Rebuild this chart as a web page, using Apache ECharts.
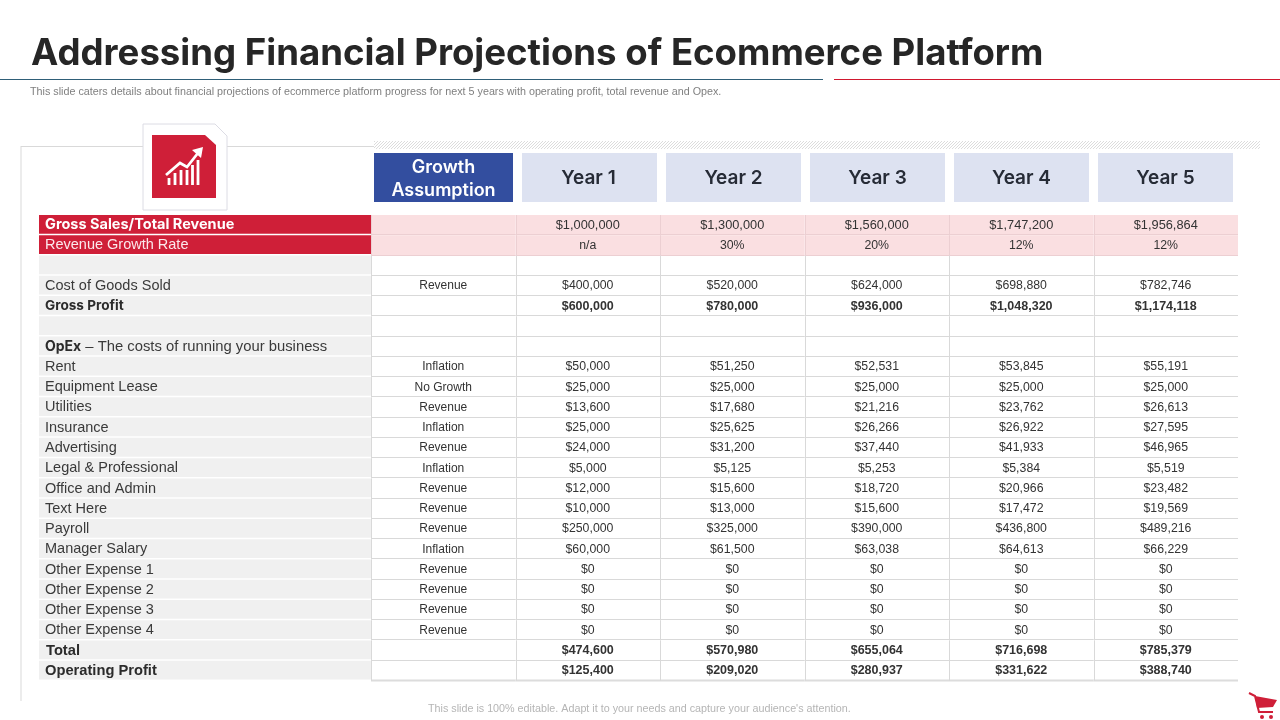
<!DOCTYPE html>
<html>
<head>
<meta charset="utf-8">
<style>html,body{margin:0;padding:0;background:#fff}#main{width:1280px;height:720px}</style>
<script src="https://cdn.jsdelivr.net/npm/echarts@6/dist/echarts.min.js"></script>
</head>
<body>
<div id="main"></div>
<script>
var headers = ['Growth\nAssumption', 'Year 1', 'Year 2', 'Year 3', 'Year 4', 'Year 5'];
var rowLabels = ['Gross Sales/Total Revenue', 'Revenue Growth Rate', '', 'Cost of Goods Sold', 'Gross Profit', '',
    'OpEx – The costs of running your business', 'Rent', 'Equipment Lease', 'Utilities', 'Insurance', 'Advertising',
    'Legal & Professional', 'Office and Admin', 'Text Here', 'Payroll', 'Manager Salary', 'Other Expense 1',
    'Other Expense 2', 'Other Expense 3', 'Other Expense 4', 'Total', 'Operating Profit'];
var assumptions = ['', '', '', 'Revenue', '', '', '', 'Inflation', 'No Growth', 'Revenue', 'Inflation', 'Revenue',
    'Inflation', 'Revenue', 'Revenue', 'Revenue', 'Inflation', 'Revenue', 'Revenue', 'Revenue', 'Revenue', '', ''];
var year1 = ['$1,000,000', 'n/a', '', '$400,000', '$600,000', '', '', '$50,000', '$25,000', '$13,600', '$25,000', '$24,000',
    '$5,000', '$12,000', '$10,000', '$250,000', '$60,000', '$0', '$0', '$0', '$0', '$474,600', '$125,400'];
var year2 = ['$1,300,000', '30%', '', '$520,000', '$780,000', '', '', '$51,250', '$25,000', '$17,680', '$25,625', '$31,200',
    '$5,125', '$15,600', '$13,000', '$325,000', '$61,500', '$0', '$0', '$0', '$0', '$570,980', '$209,020'];
var year3 = ['$1,560,000', '20%', '', '$624,000', '$936,000', '', '', '$52,531', '$25,000', '$21,216', '$26,266', '$37,440',
    '$5,253', '$18,720', '$15,600', '$390,000', '$63,038', '$0', '$0', '$0', '$0', '$655,064', '$280,937'];
var year4 = ['$1,747,200', '12%', '', '$698,880', '$1,048,320', '', '', '$53,845', '$25,000', '$23,762', '$26,922', '$41,933',
    '$5,384', '$20,966', '$17,472', '$436,800', '$64,613', '$0', '$0', '$0', '$0', '$716,698', '$331,622'];
var year5 = ['$1,956,864', '12%', '', '$782,746', '$1,174,118', '', '', '$55,191', '$25,000', '$26,613', '$27,595', '$46,965',
    '$5,519', '$23,482', '$19,569', '$489,216', '$66,229', '$0', '$0', '$0', '$0', '$785,379', '$388,740'];
var columns = [assumptions, year1, year2, year3, year4, year5];

var RED = '#cf1f38';
var HEAD_FONT = 'Inter';
var BODY_FONT = 'Liberation Sans';

// rows which the slide sets in bold
var redRows = [0, 1];
var headBoldRows = [0, 4];
var boldRows = [21, 22];
var boldCellRows = [4, 21, 22];

function renderHeader(params, api) {
    var i = api.value(0);
    var c = api.coord([i, 0]);
    var h = api.size([1, 1])[1];
    var w = i === 0 ? 139 : 135;
    var x = i === 0 ? 374 : c[0] - w / 2;
    return {
        type: 'group',
        children: [{
            type: 'rect',
            shape: { x: x, y: c[1] - h / 2, width: w, height: h },
            style: { fill: i === 0 ? '#334e9f' : '#dde2f1' }
        }, {
            type: 'text',
            style: {
                text: headers[i], x: x + w / 2 - (i === 1 ? 1 : 0), y: c[1] + (i === 0 ? 1.5 : 1),
                align: 'center', verticalAlign: 'middle',
                fill: i === 0 ? '#ffffff' : '#262b36', fontFamily: HEAD_FONT, fontWeight: 600,
                fontSize: i === 0 ? 18 : 19, lineHeight: 23
            }
        }]
    };
}

function renderLabel(params, api) {
    var r = api.value(1);
    var c = api.coord([0, r]);
    var s = api.size([1, 1]);
    var red = redRows.indexOf(r) >= 0;
    var style = {
        text: rowLabels[r], x: c[0] - s[0] / 2 + 6, y: c[1], align: 'left', verticalAlign: 'middle',
        fill: red ? '#fbe9ec' : '#3a3a3a', fontFamily: BODY_FONT, fontSize: 14.5
    };
    if (headBoldRows.indexOf(r) >= 0) {
        style.fontFamily = HEAD_FONT;
        style.fontWeight = 700;
        style.fontSize = red ? 14.5 : 13.6;
        style.fill = red ? '#ffffff' : '#2b2b2b';
    }
    if (boldRows.indexOf(r) >= 0) {
        style.fontWeight = 700;
        style.fontSize = 14.7;
        style.fill = '#2b2b2b';
    }
    if (r === 21) style.x += 1;
    if (r === 6) {
        style.text = '{b|OpEx} – The costs of running your business';
        style.rich = { b: { fontFamily: HEAD_FONT, fontWeight: 700, fontSize: 14, fill: '#2b2b2b' } };
        style.fontSize = 14.8;
    }
    return {
        type: 'group',
        children: [{
            type: 'rect',
            shape: { x: c[0] - s[0] / 2, y: c[1] - s[1] / 2, width: s[0], height: s[1] - 1.5 },
            style: { fill: red ? RED : '#f0f0f0' }
        }, { type: 'text', style: style }]
    };
}

function cellFontSize(col, r) {
    if (col === 0) return 12;
    if (r === 0) return 12.8;
    return boldCellRows.indexOf(r) >= 0 ? 12.5 : 12.3;
}

function renderCell(params, api) {
    var col = api.value(0);
    var r = api.value(1);
    var c = api.coord([col, r]);
    var s = api.size([1, 1]);
    var left = c[0] - s[0] / 2;
    var top = c[1] - s[1] / 2;
    var x = Math.round(left) + 0.5;
    var bottom = Math.round(top + s[1]) - 0.5;
    var line = { stroke: redRows.indexOf(r) >= 0 ? '#eccfd2' : '#d9d9d9', lineWidth: 1 };
    return {
        type: 'group',
        children: [{
            type: 'rect',
            shape: { x: left, y: top, width: s[0], height: s[1] },
            style: { fill: redRows.indexOf(r) >= 0 ? '#fadfe1' : '#ffffff' }
        }, {
            type: 'line',
            z2: 1,
            shape: { x1: left, y1: bottom, x2: left + s[0], y2: bottom },
            style: r === 22 ? { stroke: '#dcdcdc', lineWidth: 2 } : line
        }, {
            type: 'line',
            z2: 1,
            shape: { x1: x, y1: top, x2: x, y2: top + s[1] },
            style: line
        }, {
            type: 'text',
            z2: 2,
            style: {
                text: columns[col][r], x: c[0], y: c[1], align: 'center', verticalAlign: 'middle',
                fill: '#333333', fontFamily: BODY_FONT, fontSize: cellFontSize(col, r),
                fontWeight: boldCellRows.indexOf(r) >= 0 ? 700 : 400
            }
        }]
    };
}

var labelData = rowLabels.map(function (t, r) { return [0, r]; });
var cellData = [];
columns.forEach(function (col, c) {
    col.forEach(function (t, r) { cellData.push([c, r]); });
});

function hatchPattern() {
    var cv = document.createElement('canvas');
    cv.width = 3;
    cv.height = 3;
    var ctx = cv.getContext('2d');
    ctx.strokeStyle = '#dcdcdc';
    ctx.lineWidth = 1;
    ctx.beginPath();
    ctx.moveTo(0, 3);
    ctx.lineTo(3, 0);
    ctx.stroke();
    return cv;
}

function plain(text, x, y, size, color) {
    return {
        type: 'text',
        style: { text: text, x: x, y: y, fill: color, fontFamily: BODY_FONT, fontSize: size, verticalAlign: 'middle' }
    };
}

function gline(x1, y1, x2, y2, color, w) {
    return { type: 'line', shape: { x1: x1, y1: y1, x2: x2, y2: y2 }, style: { stroke: color, lineWidth: w || 1 } };
}

function band(x, y, w, h, color) {
    return { type: 'rect', shape: { x: x, y: y, width: w, height: h }, style: { fill: color } };
}

function whiteLine(points, w) {
    return { type: 'polyline', shape: { points: points }, style: { stroke: '#fff', lineWidth: w, fill: null } };
}

// little bar glyph inside the red icon: x, top
var iconBars = [[169, 178], [175, 173], [181, 170], [187, 170], [192.5, 165], [198, 160]].map(function (b) {
    return { type: 'rect', shape: { x: b[0] - 1.4, y: b[1], width: 2.8, height: 185 - b[1] }, style: { fill: '#fff' } };
});

var decorations = [
    band(0, 79, 823, 1, '#2f5f78'),
    band(834, 79, 446, 1, '#d0182f'),
    plain('This slide caters details about financial projections of ecommerce platform progress for next 5 years with operating profit, total revenue and Opex.', 30, 92.5, 10.75, '#7f7f7f'),
    plain("This slide is 100% editable. Adapt it to your needs and capture your audience's attention.", 428, 709.5, 10.75, '#b5b5b5'),
    gline(21, 146.5, 143, 146.5, '#d9d9d9'),
    gline(227, 146.5, 374, 146.5, '#d9d9d9'),
    gline(21, 146, 21, 701, '#d9d9d9'),
    { type: 'rect', shape: { x: 374, y: 141, width: 886, height: 8 }, style: { fill: { image: hatchPattern(), repeat: 'repeat' } } },
    { type: 'polygon', shape: { points: [[143, 124], [215, 124], [227, 136], [227, 210], [143, 210]] }, style: { fill: '#fff', stroke: '#dcdce4', lineWidth: 1 } },
    { type: 'polygon', shape: { points: [[152, 135], [205, 135], [216, 145], [216, 198], [152, 198]] }, style: { fill: RED } }
].concat(iconBars, [
    whiteLine([[166, 175], [180, 163], [187, 167], [198, 153]], 2.8),
    { type: 'polygon', shape: { points: [[192, 150], [203, 147], [201, 158]] }, style: { fill: '#fff' } },
    // cart, bottom right corner
    { type: 'polyline', shape: { points: [[1249, 693], [1255, 696], [1259, 712], [1273, 712]] }, style: { stroke: RED, lineWidth: 2, fill: null } },
    { type: 'polygon', shape: { points: [[1255, 696], [1277, 700], [1273, 707], [1257, 708]] }, style: { fill: RED } },
    { type: 'circle', shape: { cx: 1262, cy: 717, r: 2 }, style: { fill: RED } },
    { type: 'circle', shape: { cx: 1271, cy: 717, r: 2 }, style: { fill: RED } }
]);

var chart = echarts.init(document.getElementById('main'));
chart.setOption({
    animation: false,
    backgroundColor: '#ffffff',
    title: {
        text: 'Addressing Financial Projections of Ecommerce Platform',
        left: 26, top: 30,
        textStyle: { fontFamily: HEAD_FONT, fontWeight: 700, fontSize: 36.6, color: '#262626' }
    },
    grid: [
        { left: 373.5, top: 153, width: 864, height: 49 },
        { left: 39, top: 215, width: 332, height: 466 },
        { left: 371, top: 215, width: 867, height: 466 }
    ],
    xAxis: [
        { gridIndex: 0, type: 'category', data: headers, show: false },
        { gridIndex: 1, type: 'category', data: ['label'], show: false },
        { gridIndex: 2, type: 'category', data: headers, show: false }
    ],
    yAxis: [
        { gridIndex: 0, type: 'category', data: ['header'], show: false },
        { gridIndex: 1, type: 'category', data: rowLabels, inverse: true, show: false },
        { gridIndex: 2, type: 'category', data: rowLabels, inverse: true, show: false }
    ],
    graphic: { elements: decorations },
    series: [
        { type: 'custom', xAxisIndex: 0, yAxisIndex: 0, renderItem: renderHeader, data: headers.map(function (h, i) { return [i, 0]; }), silent: true },
        { type: 'custom', xAxisIndex: 1, yAxisIndex: 1, renderItem: renderLabel, data: labelData, silent: true },
        { type: 'custom', xAxisIndex: 2, yAxisIndex: 2, renderItem: renderCell, data: cellData, silent: true }
    ]
});
</script>
</body>
</html>
